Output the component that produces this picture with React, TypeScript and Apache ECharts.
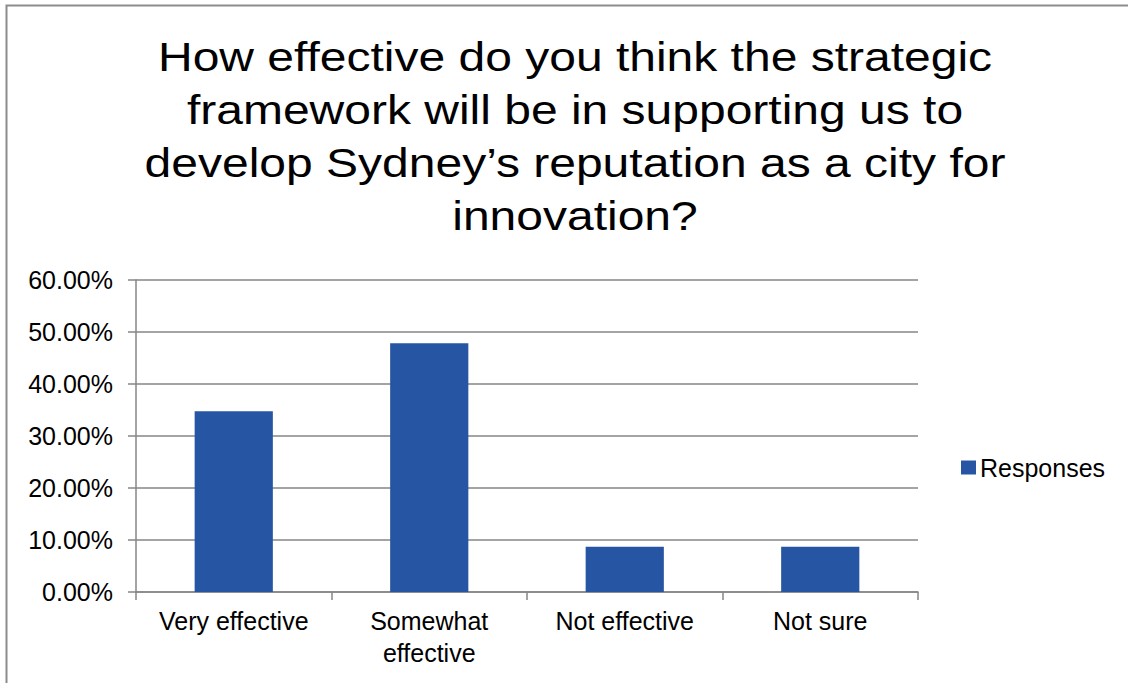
import React, { useEffect, useRef } from "react";
import * as echarts from "echarts";

const titleLines = [
  "How effective do you think the strategic",
  "framework will be in supporting us to",
  "develop Sydney’s reputation as a city for",
  "innovation?",
];
const categories = ["Very effective", "Somewhat\neffective", "Not effective", "Not sure"];
const responses = [0.3478, 0.4783, 0.087, 0.087];
const seriesName = "Responses";
const yTicks = { min: 0, max: 0.6, interval: 0.1 };

const FONT = "'Liberation Sans', Arial, sans-serif";

export default function App() {
  const ref = useRef<HTMLDivElement>(null);
  useEffect(() => {
    document.body.style.margin = "0";
    const chart = echarts.init(ref.current!, null, { renderer: "svg" });
    chart.setOption({
      animation: false,
      textStyle: { fontFamily: FONT },
      legend: {
        data: [seriesName],
        left: 961,
        top: 455,
        padding: 0,
        icon: "rect",
        itemWidth: 15,
        itemHeight: 14,
        itemGap: 5,
        textStyle: { fontSize: 25, color: "#000", fontFamily: FONT, padding: [0, 0, 0, -1] },
      },
      grid: { left: 136, right: 210, top: 280, bottom: 91, containLabel: false },
      xAxis: {
        type: "category",
        data: categories,
        axisLine: { lineStyle: { color: "#868686", width: 1.5 } },
        axisTick: { show: true, length: 8, lineStyle: { color: "#868686", width: 1.5 } },
        axisLabel: { fontSize: 25, color: "#000", margin: 13, lineHeight: 32, fontFamily: FONT, interval: 0 },
      },
      yAxis: {
        type: "value",
        min: yTicks.min,
        max: yTicks.max,
        interval: yTicks.interval,
        axisLine: { show: true, lineStyle: { color: "#868686", width: 1.5 } },
        axisTick: { show: true, length: 8, lineStyle: { color: "#868686", width: 1.5 } },
        splitLine: { lineStyle: { color: "#868686", width: 1.5 } },
        axisLabel: {
          fontSize: 25,
          color: "#000",
          margin: 23,
          fontFamily: FONT,
          formatter: (v: number) => (v * 100).toFixed(2) + "%",
        },
      },
      series: [
        {
          name: seriesName,
          type: "bar",
          data: responses,
          barWidth: "40%",
          itemStyle: { color: "#2656A3" },
        },
      ],
      graphic: [
        {
          type: "rect",
          shape: { x: 6.5, y: 5.5, width: 1200, height: 800 },
          style: { fill: "none", stroke: "#8c8c8c", lineWidth: 2 },
          silent: true,
        },
        {
          type: "text",
          x: 575,
          y: 30,
          scaleX: 1.2,
          silent: true,
          style: {
            text: titleLines.join("\n"),
            fontSize: 40,
            fontFamily: FONT,
            fill: "#000",
            lineHeight: 53,
            align: "center",
            verticalAlign: "top",
            textAlign: "center",
            textVerticalAlign: "top",
          },
        },
      ],
    });
    return () => chart.dispose();
  }, []);
  return <div ref={ref} style={{ width: 1128, height: 683, position: "absolute", left: 0, top: 0, background: "#fff" }} />;
}
